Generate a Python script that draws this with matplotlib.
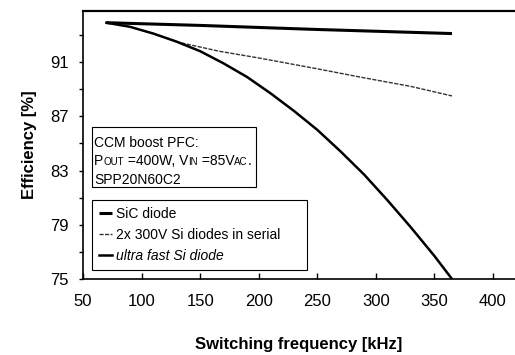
import matplotlib
matplotlib.use("Agg")
import matplotlib.pyplot as plt
from matplotlib.patches import Rectangle

plt.rcParams['font.family'] = ['Liberation Sans', 'DejaVu Sans']

# data
sic_f = [70, 150, 250, 365]
sic_eff = [93.9, 93.7, 93.4, 93.1]

serial_f = [70, 90, 110, 132, 166, 200, 250, 286, 330, 365]
serial_eff = [93.9, 93.6, 93.1, 92.45, 91.8, 91.3, 90.5, 89.9, 89.2, 88.5]

fast_f = [70, 90, 110, 130, 150, 170, 190, 210, 230, 250, 270, 290, 310, 330, 350, 365]
fast_eff = [93.9, 93.6, 93.1, 92.5, 91.8, 90.9, 89.9, 88.7, 87.4, 86.0, 84.4, 82.7,
            80.8, 78.8, 76.7, 75.0]

labels = ['SiC diode', '2x 300V Si diodes in serial', 'ultra fast Si diode']
xticks = [50, 100, 150, 200, 250, 300, 350, 400]
yticks = [75, 79, 83, 87, 91]
yminor = [77, 81, 85, 89, 93]

fig = plt.figure(figsize=(5.15, 3.55), dpi=100)
ax = fig.add_axes([83 / 515, 76 / 355, 432 / 515, 268.5 / 355])

ax.plot(sic_f, sic_eff, color='black', lw=2.2, label=labels[0], solid_capstyle='butt')
ax.plot(serial_f, serial_eff, color='#333333', lw=1.0, ls=(0, (3, 1)), label=labels[1])
ax.plot(fast_f, fast_eff, color='black', lw=1.8, label=labels[2])

ax.set_xlim(50, 418.8)
ax.set_ylim(75, 94.8)
ax.set_xticks(xticks)
ax.set_yticks(yticks)
ax.set_yticks(yminor, minor=True)
ax.tick_params(axis='y', which='both', direction='out', length=3, width=1, labelsize=12, pad=7)
ax.tick_params(axis='x', direction='in', length=4, width=1, labelsize=12, pad=11)

ax.spines['right'].set_visible(False)
ax.spines['top'].set_linewidth(1.6)
ax.spines['left'].set_linewidth(1.2)
ax.spines['bottom'].set_linewidth(1.2)

ax.set_xlabel('Switching frequency [kHz]', fontsize=12, fontweight='bold', labelpad=20)
ax.set_ylabel('Efficiency [%]', fontsize=12, fontweight='bold', labelpad=10)

leg = ax.legend(loc='lower left', bbox_to_anchor=(0.021, 0.034, 0.498, 0.2),
                mode='expand', borderaxespad=0, fancybox=False, edgecolor='black',
                framealpha=1, fontsize=10, handlelength=0.9, handletextpad=0.3,
                labelspacing=0.5, borderpad=0.5)
leg.get_frame().set_linewidth(0.8)
leg.get_texts()[2].set_style('italic')

# info box
fig.patches.append(Rectangle((92 / 515, 1 - 187 / 355), 164 / 515, 60 / 355,
                             transform=fig.transFigure, fill=False,
                             edgecolor='black', lw=0.8))
fig.text(94 / 515, 1 - 143 / 355, 'CCM boost PFC:', fontsize=10, va='center')
fig.text(94 / 515, 1 - 180 / 355, 'SPP20N60C2', fontsize=10, va='center')

pieces = [('P', 10), ('OUT', 7), (' =400W, V', 10), ('IN', 7), (' =85V', 10), ('AC', 7), ('.', 10)]
fig.canvas.draw()
r = fig.canvas.get_renderer()
x = 94
for s, size in pieces:
    t = fig.text(x / 515, 1 - 165 / 355, s, fontsize=size, va='baseline')
    x += t.get_window_extent(renderer=r).width
fig.savefig('out.png', dpi=100)
